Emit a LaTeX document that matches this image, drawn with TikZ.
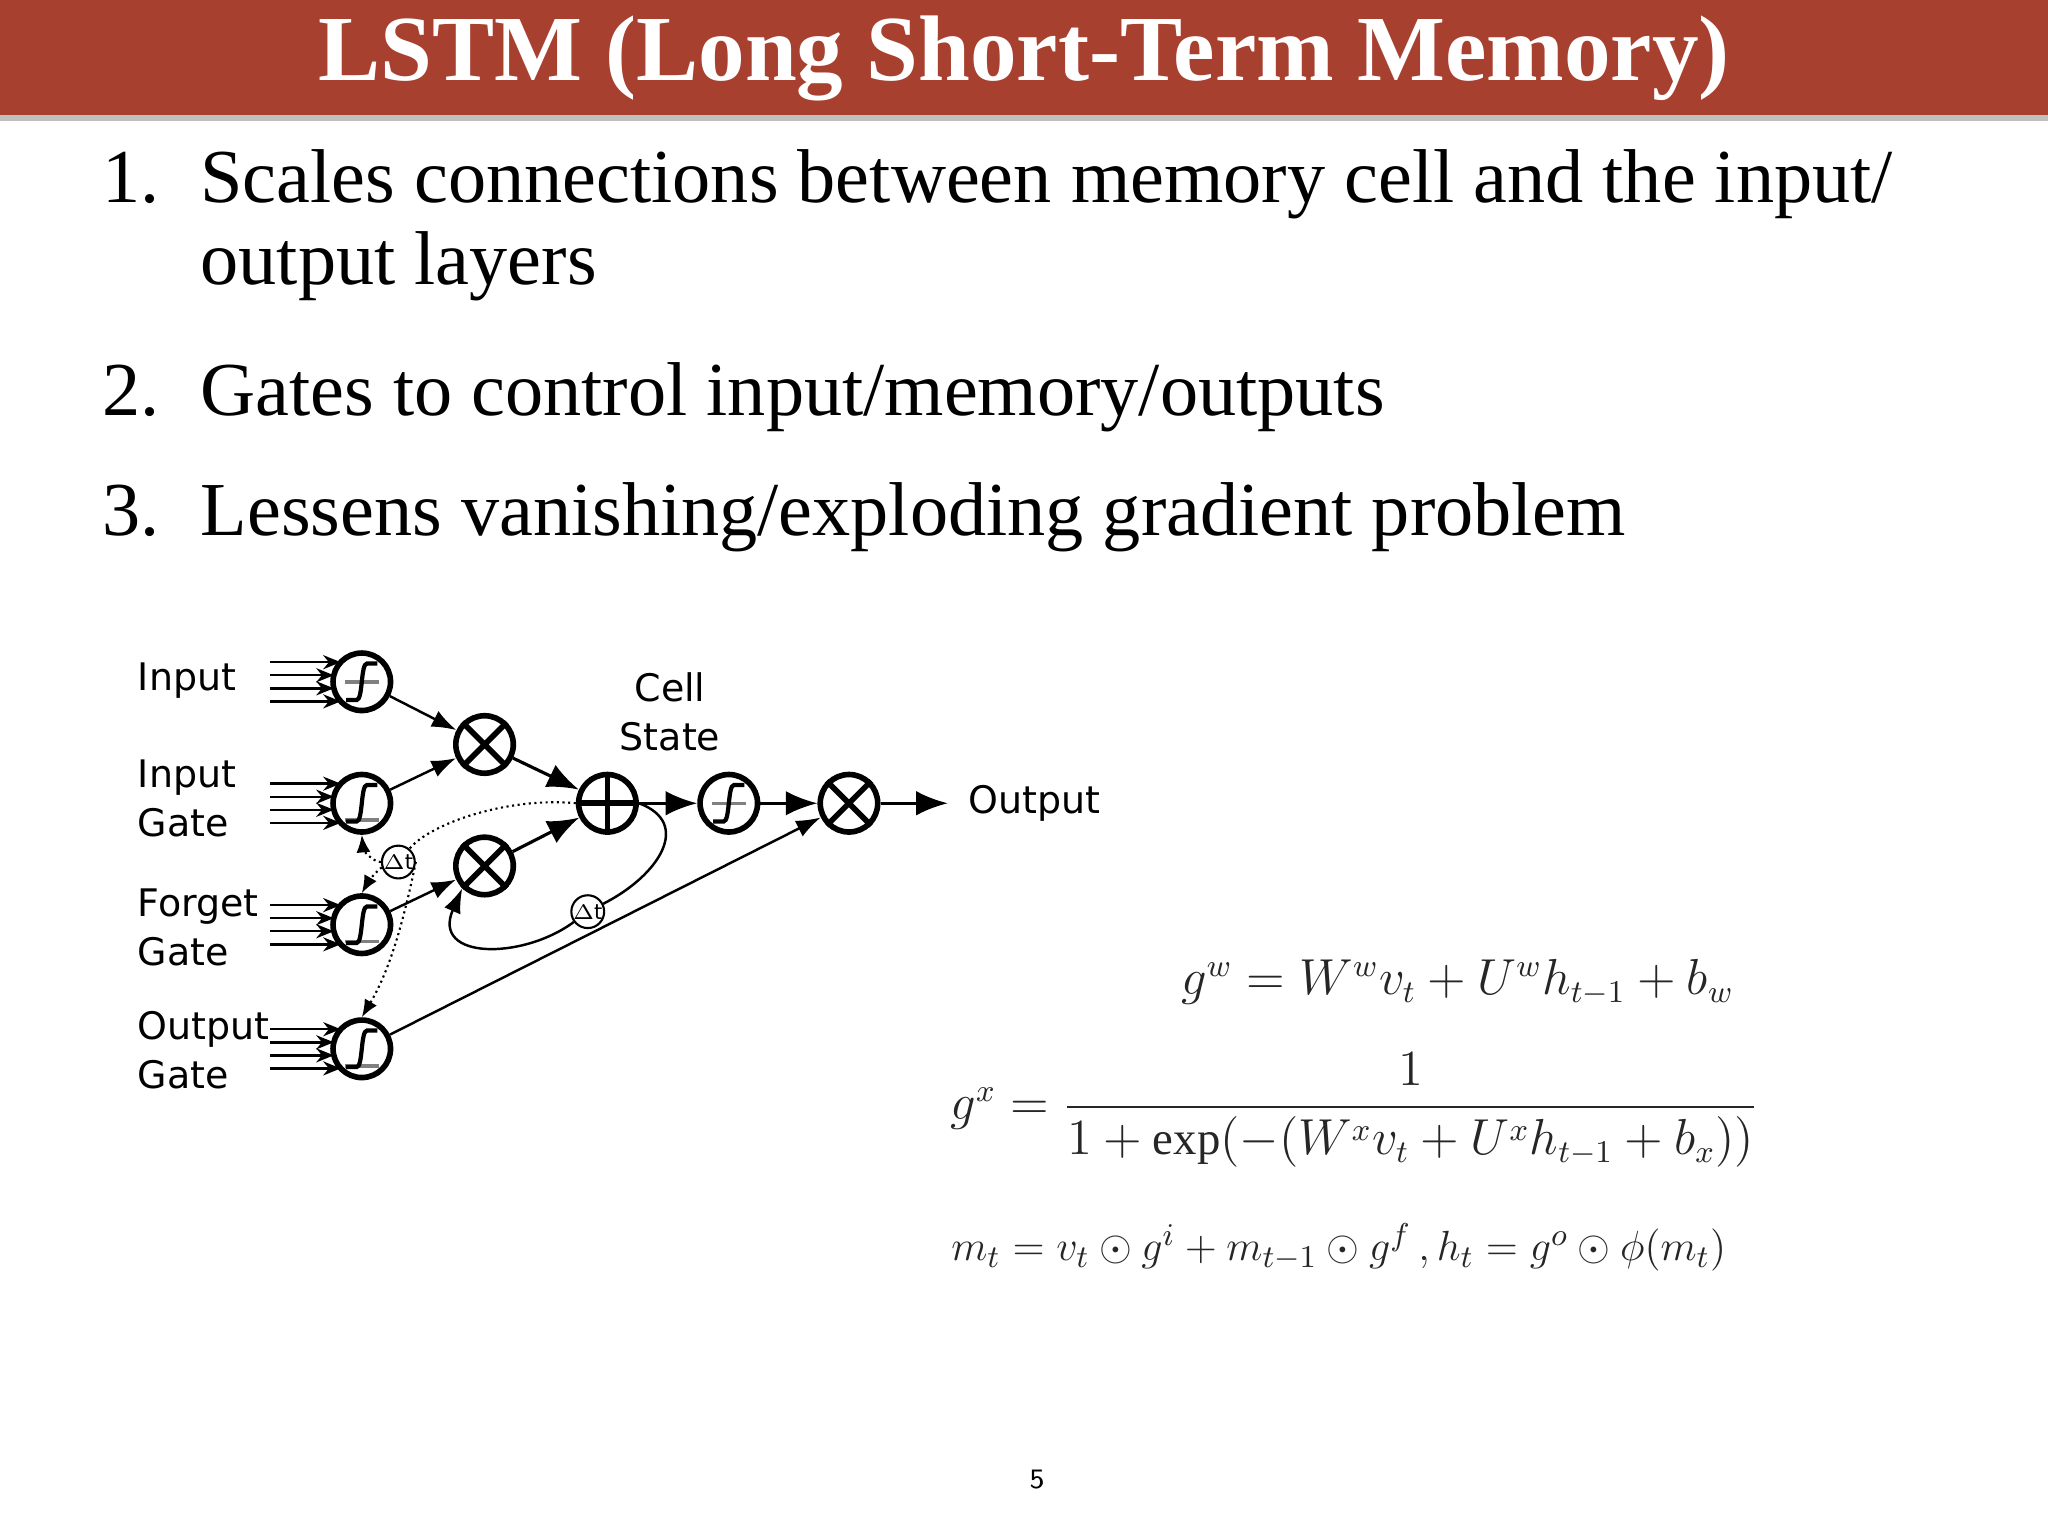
\documentclass[tikz,border=0pt]{standalone}
\usepackage{fontspec}
\usepackage{amsmath}
\setmainfont{Liberation Serif}
\newfontfamily\dejavu{DejaVu Sans}
\usetikzlibrary{calc,arrows.meta}
\definecolor{titlered}{RGB}{168,64,48}
\tikzset{
  unit/.style={draw,circle,line width=1.6pt,minimum size=0.575cm,inner sep=0pt},
  small/.style={draw,circle,line width=0.6pt,minimum size=0.29cm,inner sep=0pt,font=\dejavu\fontsize{6}{6}\selectfont},
  lbl/.style={font=\dejavu\fontsize{10.8}{14}\selectfont,align=left,anchor=west,inner sep=0pt},
  big/.style={-{Latex[length=9pt,width=7pt]},line width=0.9pt},
  thin/.style={-{Latex[length=7pt,width=5pt]},line width=0.7pt},
  inarr/.style={-{Stealth[length=5pt,width=4pt]},line width=0.7pt},
  dots/.style={densely dotted,line width=0.6pt,-{Latex[length=5pt,width=4pt]}},
  bul/.style={anchor=base west,inner sep=0pt,font=\fontsize{21.7}{27}\selectfont},
  eq/.style={text=black!85}
}
\newcommand{\sigsym}[2]{%
  \draw[gray,line width=1pt] ($(#1)+(-13,#2)$) -- ($(#1)+(13,#2)$);
  \draw[line width=1.2pt] ($(#1)+(-12,14)$) -- ($(#1)+(-4,14)$) .. controls ($(#1)+(1,14)$) and ($(#1)+(-1,-14)$) .. ($(#1)+(4,-14)$) -- ($(#1)+(12,-14)$);}
\newcommand{\mulsym}[1]{\draw[line width=1.6pt] (#1.45) -- (#1.225) (#1.135) -- (#1.315);}
\begin{document}
\begin{tikzpicture}[x=0.01306cm,y=-0.01306cm]
\useasboundingbox (0,0) rectangle (1568,1176);
\fill[white] (0,0) rectangle (1568,1176);
\fill[black!25] (0,88) rectangle (1568,93);
\fill[titlered] (0,0) rectangle (1568,88);
\node[text=white,font=\bfseries\fontsize{26.5}{30}\selectfont] (title) at (784,45) {LSTM (Long Short-Term Memory)};
% bullets
\node[bul] (n1) at (78,155) {1.};
\node[bul] (t1) at (153,155) {Scales connections between memory cell and the input/};
\node[bul] (t1b) at (153,218) {output layers};
\node[bul] (n2) at (78,318) {2.};
\node[bul] (t2) at (153,318) {Gates to control input/memory/outputs};
\node[bul] (n3) at (78,410) {3.};
\node[bul] (t3) at (153,410) {Lessens vanishing/exploding gradient problem};
% labels
\node[lbl] (lin) at (105,521) {Input};
\node[lbl] (lig) at (105,611) {Input\\Gate};
\node[lbl] (lfg) at (105,710) {Forget\\Gate};
\node[lbl] (log) at (105,804) {Output\\Gate};
\node[lbl,align=center,anchor=center] (lcs) at (513,545) {Cell\\State};
% units
\node[unit] (in) at (277,522) {};
\node[unit] (ig) at (277,615) {};
\node[unit] (fg) at (277,708) {};
\node[unit] (og) at (277,803) {};
\node[unit] (m1) at (371,570) {};
\node[unit] (m2) at (371,663) {};
\node[unit] (pl) at (465,615) {};
\node[unit] (th) at (558,615) {};
\node[unit] (mo) at (650,615) {};
\node[lbl] (out) at (741,615) {Output};
\node[small] (dt1) at (305,660) {$\Delta$t};
\node[small] (dt2) at (450,698) {$\Delta$t};
\sigsym{in}{0}\sigsym{th}{0}\sigsym{ig}{13}\sigsym{fg}{13}\sigsym{og}{13}
\mulsym{m1}\mulsym{m2}\mulsym{mo}
\draw[line width=1.6pt] (pl.north) -- (pl.south) (pl.east) -- (pl.west);
% input arrows
\foreach \g/\y in {in/522,ig/615,fg/708,og/803}{
  \foreach \d/\w in {-15/16.1,-5/21.4,5/21.4,15/16.1}{
    \draw[inarr] (207,\y+\d) -- (277-\w,\y+\d);}}
% main connectors
\draw[thin] (in) -- (m1);
\draw[thin] (ig) -- (m1);
\draw[thin] (fg) -- (m2);
\draw[big] (m1) -- (pl);
\draw[big] (m2) -- (pl);
\draw[big] (pl) -- (th);
\draw[big] (th) -- (mo);
\draw[big,shorten >=0.2cm] (mo) -- (out);
\draw[thin] (og) -- (mo);
% loop
\draw[line width=0.7pt] (pl.east) .. controls (530,630) and (505,670) .. (dt2);
\draw[thin] (dt2) .. controls (400,735) and (330,735) .. (m2.south west);
% peepholes
\draw[densely dotted,line width=0.6pt] (pl.west) .. controls (390,610) and (330,630) .. (dt1);
\draw[dots] (dt1) .. controls (285,660) and (278,650) .. (ig.south);
\draw[dots] (dt1) .. controls (290,665) and (282,675) .. (fg.north);
\draw[dots] (dt1.east) .. controls (310,700) and (300,740) .. (og.north);
% equations
\node[eq,font=\fontsize{13.3}{16}\selectfont] (e1) at (1116,752) {$g^w = W^w v_t + U^w h_{t-1} + b_w$};
\node[eq,font=\fontsize{13.3}{16}\selectfont] (e2) at (1037,850) {$g^x = \dfrac{1}{1+\exp(-(W^x v_t + U^x h_{t-1} + b_x))}$};
\node[eq,font=\fontsize{12.7}{16}\selectfont] (e3) at (1025,955) {$m_t = v_t \odot g^i + m_{t-1} \odot g^f\,, h_t = g^o \odot \phi(m_t)$};
\node[font=\sffamily\fontsize{8}{8}\selectfont] (pg) at (794,1133) {5};
\end{tikzpicture}
\end{document}
